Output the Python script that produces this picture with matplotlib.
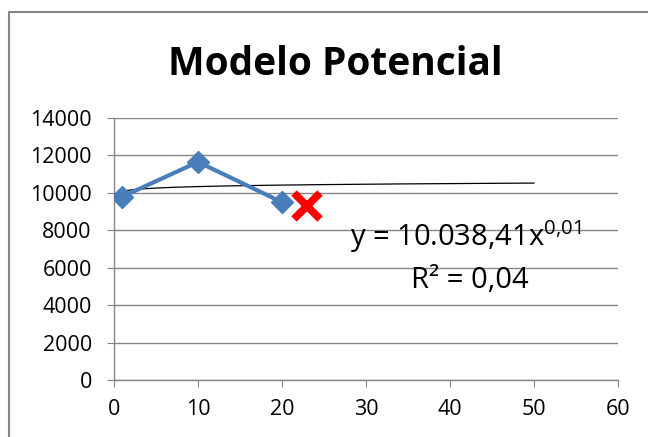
import numpy as np
import matplotlib.pyplot as plt
from matplotlib.patches import Rectangle

plt.rcParams['font.family'] = ['Open Sans', 'DejaVu Sans']
plt.rcParams['mathtext.fontset'] = 'custom'
plt.rcParams['mathtext.rm'] = 'Open Sans'
plt.rcParams['mathtext.it'] = 'Open Sans'

# Data
x_vals = [1, 10, 20]
y_vals = [9800, 11650, 9500]
x_new = [23]
y_new = [9300]
x_ticks = [0, 10, 20, 30, 40, 50, 60]
y_ticks = [0, 2000, 4000, 6000, 8000, 10000, 12000, 14000]
trend_end = 50

# Power trendline fitted from the data (log-log least squares)
b, ln_a = np.polyfit(np.log(x_vals), np.log(y_vals), 1)
a = np.exp(ln_a)
xt = np.linspace(x_vals[0], trend_end, 200)
yt = a * xt ** b

fig = plt.figure(figsize=(6.48, 4.37), dpi=100)
ax = fig.add_axes([114/648, 57/437, 504/648, 262/437])

ax.plot(xt, yt, color='black', lw=0.9, zorder=3)
ax.plot(x_vals, y_vals, color='#4A7EBB', lw=3, marker='D', markersize=11,
        markerfacecolor='#4A7EBB', markeredgecolor='#4A7EBB', zorder=4)
ax.plot(x_new, y_new, linestyle='none', marker='x', markersize=19,
        markeredgewidth=5.5, color='#FF0000', zorder=5)

ax.set_xlim(0, 60)
ax.set_ylim(0, 14000)
ax.set_xticks(x_ticks)
ax.set_yticks(y_ticks)
ax.tick_params(labelsize=15.5, length=5, color='#868686')
ax.tick_params(axis='x', pad=9)
ax.tick_params(axis='y', pad=11)
ax.grid(axis='y', color='#868686', lw=1)
ax.set_axisbelow(True)
for s in ['top', 'right']:
    ax.spines[s].set_visible(False)
for s in ['left', 'bottom']:
    ax.spines[s].set_color('#868686')
    ax.spines[s].set_linewidth(1)

fig.text(335/648, 1 - 75/437, 'Modelo Potencial', ha='center', va='baseline',
         fontsize=28, fontweight='bold')

fig.text(466/648, 1 - 246/437, r'y = 10.038,41x$^{0{,}01}$', ha='center',
         va='baseline', fontsize=21)
fig.text(470/648, 1 - 288/437, 'R² = 0,04', ha='center', va='baseline',
         fontsize=21)

# chart area border (right and bottom edges fall outside the picture)
fig.patches.append(Rectangle((9/648, -0.1), 1.2, 1 - 12/437 + 0.1,
                             transform=fig.transFigure, fill=False,
                             edgecolor='#868686', lw=1.5))

fig.savefig('out.png', dpi=100)
